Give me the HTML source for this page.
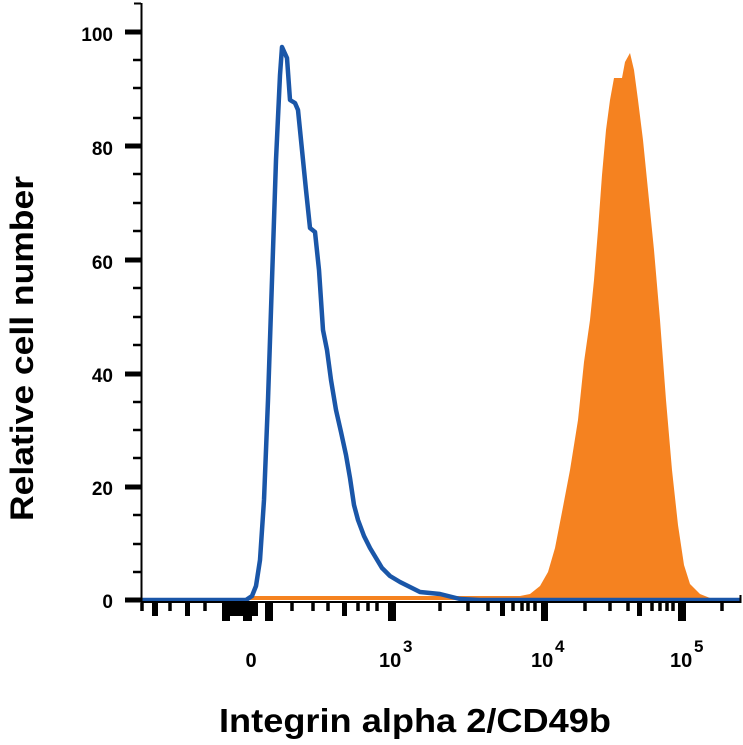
<!DOCTYPE html>
<html><head><style>
html,body{margin:0;padding:0;background:#fff;}
svg{display:block;font-family:"Liberation Sans",sans-serif;}
</style></head><body>
<svg width="743" height="745" viewBox="0 0 743 745">
<polygon fill="#f58220" points="250,600 250,596 520,596 530,594 540,586 548,572 555,548 562,512 570,470 578,420 584,362 590,320 594,280 598,230 602,175 606,130 610,100 614,78 622,78 625,62 630,53 634,70 638,100 643,140 648,190 654,250 660,320 666,400 672,470 678,525 684,565 690,584 700,594 710,598 715,600"/>
<polyline fill="none" stroke="#1a56a8" stroke-width="4.5" stroke-linejoin="round" points="141,600 246,600 252,596 256,586 260,560 264,500 268,400 272,280 276,160 280,75 282,47 287,58 290,100 295,103 298,110 302,150 306,190 310,228 315,232 319,270 323,330 327,350 331,380 336,410 341,432 346,455 350,478 354,505 358,520 364,536 370,548 376,558 382,568 390,576 400,582 410,587 420,592 440,594 460,599 480,600 741,600"/>
<line x1="141.5" y1="3" x2="141.5" y2="603" stroke="#000" stroke-width="2"/>
<line x1="134" y1="3.5" x2="141" y2="3.5" stroke="#000" stroke-width="2"/>
<line x1="141" y1="602" x2="741" y2="602" stroke="#000" stroke-width="2"/>
<line x1="740.5" y1="595" x2="740.5" y2="603" stroke="#000" stroke-width="2"/>
<g stroke="#000" stroke-width="5">
<line x1="125" y1="32" x2="141" y2="32"/><line x1="125" y1="146" x2="141" y2="146"/><line x1="125" y1="260" x2="141" y2="260"/><line x1="125" y1="374" x2="141" y2="374"/><line x1="125" y1="487" x2="141" y2="487"/><line x1="125" y1="600" x2="141" y2="600"/>
</g>
<g stroke="#000" stroke-width="2.5">
<line x1="133" y1="60" x2="141" y2="60"/><line x1="133" y1="88" x2="141" y2="88"/><line x1="133" y1="118" x2="141" y2="118"/>
<line x1="133" y1="174" x2="141" y2="174"/><line x1="133" y1="203" x2="141" y2="203"/><line x1="133" y1="231" x2="141" y2="231"/>
<line x1="133" y1="288" x2="141" y2="288"/><line x1="133" y1="317" x2="141" y2="317"/><line x1="133" y1="345" x2="141" y2="345"/>
<line x1="133" y1="402" x2="141" y2="402"/><line x1="133" y1="430" x2="141" y2="430"/><line x1="133" y1="458" x2="141" y2="458"/>
<line x1="133" y1="515" x2="141" y2="515"/><line x1="133" y1="544" x2="141" y2="544"/><line x1="133" y1="572" x2="141" y2="572"/>
</g>
<g stroke="#000" stroke-width="3.5">
<line x1="142" y1="603" x2="142" y2="611"/><line x1="170" y1="603" x2="170" y2="611"/><line x1="205" y1="603" x2="205" y2="611"/>
<line x1="292" y1="603" x2="292" y2="611"/><line x1="313" y1="603" x2="313" y2="611"/><line x1="328" y1="603" x2="328" y2="611"/><line x1="358" y1="603" x2="358" y2="611"/><line x1="368" y1="603" x2="368" y2="611"/><line x1="377" y1="603" x2="377" y2="611"/>
<line x1="440" y1="603" x2="440" y2="611"/><line x1="468" y1="603" x2="468" y2="611"/><line x1="488" y1="603" x2="488" y2="611"/><line x1="513" y1="603" x2="513" y2="611"/><line x1="522" y1="603" x2="522" y2="611"/><line x1="528" y1="603" x2="528" y2="611"/><line x1="535" y1="603" x2="535" y2="611"/>
<line x1="585" y1="603" x2="585" y2="611"/><line x1="610" y1="603" x2="610" y2="611"/><line x1="628" y1="603" x2="628" y2="611"/><line x1="652" y1="603" x2="652" y2="611"/><line x1="660" y1="603" x2="660" y2="611"/><line x1="667" y1="603" x2="667" y2="611"/><line x1="673" y1="603" x2="673" y2="611"/>
<line x1="722" y1="603" x2="722" y2="611"/>
</g>
<g fill="#000">
<rect x="152" y="603" width="6" height="13"/><rect x="185" y="603" width="5" height="13"/><rect x="342" y="603" width="5" height="13"/><rect x="500" y="603" width="5" height="13"/><rect x="637" y="603" width="5" height="13"/>
<rect x="222" y="603" width="8" height="18"/><rect x="230" y="603" width="13" height="13"/><rect x="243" y="603" width="9" height="18"/><rect x="252" y="603" width="6" height="13"/><rect x="265" y="603" width="8" height="18"/>
<rect x="388" y="603" width="8" height="18"/><rect x="541" y="603" width="7" height="18"/><rect x="678" y="603" width="8" height="18"/>
</g>
<g font-size="20" fill="#000" font-weight="bold">
<text x="251" y="667" text-anchor="middle">0</text>
<text x="379" y="667">10</text><text x="403" y="652" font-size="17">3</text>
<text x="531" y="667">10</text><text x="555" y="652" font-size="17">4</text>
<text x="670" y="667">10</text><text x="694" y="652" font-size="17">5</text>
</g>
<g font-size="19" text-anchor="end" fill="#000" font-weight="bold">
<text x="113" y="41">100</text><text x="113" y="155">80</text><text x="113" y="269">60</text><text x="113" y="382">40</text><text x="113" y="495">20</text><text x="113" y="608">0</text>
</g>
<text x="219" y="732" font-size="33" font-weight="bold" textLength="392" lengthAdjust="spacingAndGlyphs">Integrin alpha 2/CD49b</text>
<text transform="translate(33,521) rotate(-90)" font-size="32" font-weight="bold" textLength="345" lengthAdjust="spacingAndGlyphs">Relative cell number</text>
</svg>
</body></html>
